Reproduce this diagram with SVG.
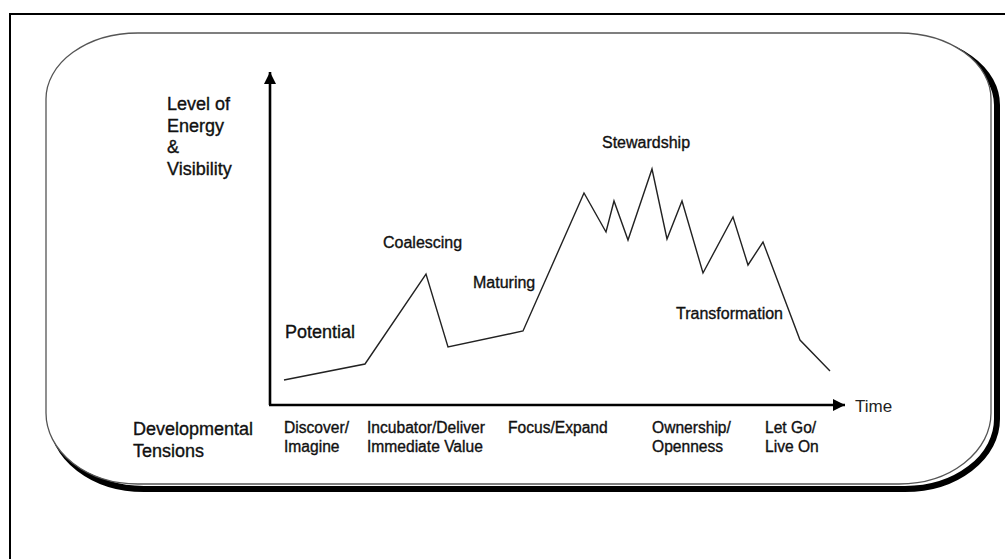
<svg xmlns="http://www.w3.org/2000/svg" width="1005" height="559" viewBox="0 0 1005 559">
<style>
text{font-family:"Liberation Sans",Arial,sans-serif;fill:#111;stroke:#111;stroke-width:0.35}
.big{font-size:18px}
.ph{font-size:16px}
.tn{font-size:15.6px}
.light{stroke:none;fill:#222}
.axis{stroke:#000;stroke-width:2.6;fill:none}
.curve{stroke:#222;stroke-width:1.4;fill:none;stroke-linejoin:miter}
</style>
<defs>
<marker id="ah" viewBox="0 0 12 12" refX="12" refY="6" markerWidth="12" markerHeight="12" markerUnits="userSpaceOnUse" orient="auto">
<path d="M0,0 L12,6 L0,12 Z" fill="#000"/>
</marker>
</defs>
<rect width="1005" height="559" fill="#fff"/>
<g id="frame">
<path d="M10,570 L10,14 L1010,14" fill="none" stroke="#000" stroke-width="2"/>
</g>
<g id="panel">
<path d="M144,39 L905,39 A92,66 0 0 1 997,105 L997,419 A92,70 0 0 1 905,489 L144,489 A92,70 0 0 1 52,419 L52,105 A92,66 0 0 1 144,39 Z" fill="none" stroke="#000" stroke-width="6"/>
<path d="M138,33 L899,33 A92,66 0 0 1 991,99 L991,413 A92,71 0 0 1 899,484 L138,484 A92,71 0 0 1 46,413 L46,99 A92,66 0 0 1 138,33 Z" fill="#fff" stroke="#555" stroke-width="1.3"/>
</g>
<g id="connectors">
<line class="axis" x1="270" y1="405" x2="270" y2="72" marker-end="url(#ah)"/>
<line class="axis" x1="269" y1="405" x2="845" y2="405" marker-end="url(#ah)"/>
<polyline class="curve" points="284,380 365,364 426,274 448,347 523,331 584,193 606,232 614,201 628,240 652,169 667,239 682,201 703,273 733,217 748,265 763,242 800,340 830,371"/>
</g>
<g id="yaxis-label">
<text class="big" x="167" y="110">Level of</text>
<text class="big" x="167" y="132">Energy</text>
<text class="big" x="167" y="153">&amp;</text>
<text class="big" x="167" y="175">Visibility</text>
</g>
<g id="potential"><text class="big" x="285" y="338">Potential</text></g>
<g id="coalescing"><text class="ph" x="383" y="248">Coalescing</text></g>
<g id="maturing"><text class="ph" x="473" y="288">Maturing</text></g>
<g id="stewardship"><text class="ph" x="602" y="148">Stewardship</text></g>
<g id="transformation"><text class="ph" x="676" y="319">Transformation</text></g>
<g id="time"><text class="light" x="855" y="412" font-size="17">Time</text></g>
<g id="tensions-label">
<text class="big" x="133" y="435">Developmental</text>
<text class="big" x="133" y="457">Tensions</text>
</g>
<g id="t1"><text class="tn" x="284" y="433">Discover/</text><text class="tn" x="284" y="452">Imagine</text></g>
<g id="t2"><text class="tn" x="367" y="433">Incubator/Deliver</text><text class="tn" x="367" y="452">Immediate Value</text></g>
<g id="t3"><text class="tn" x="508" y="433">Focus/Expand</text></g>
<g id="t4"><text class="tn" x="652" y="433">Ownership/</text><text class="tn" x="652" y="452">Openness</text></g>
<g id="t5"><text class="tn" x="765" y="433">Let Go/</text><text class="tn" x="765" y="452">Live On</text></g>
</svg>
